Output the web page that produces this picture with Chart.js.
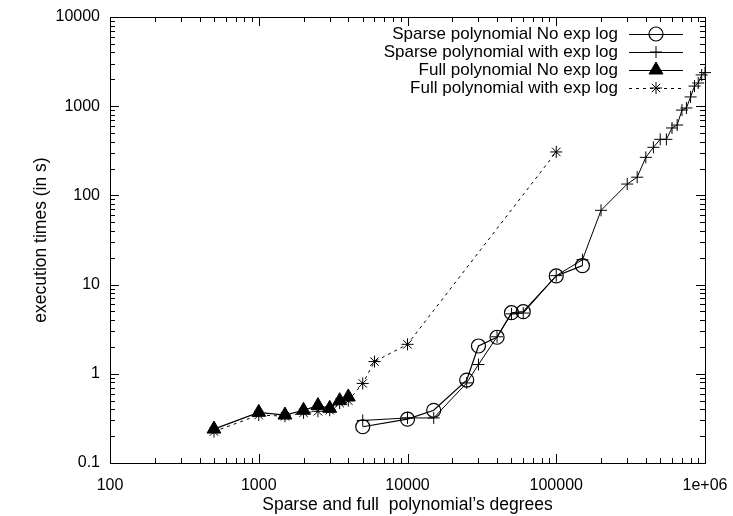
<!DOCTYPE html>
<html>
<head>
<meta charset="utf-8">
<script src="https://cdn.jsdelivr.net/npm/chart.js@4/dist/chart.umd.min.js"></script>
<style>
  html, body { margin: 0; padding: 0; background: #fff; }
  #wrap { width: 733px; height: 516px; }
</style>
</head>
<body>
<div id="wrap"><canvas id="c" width="733" height="516"></canvas></div>
<script>
// Values (log-log axes).
const seriesNames = [
  "Sparse polynomial No exp log",
  "Sparse polynomial with exp log",
  "Full polynomial No exp log",
  "Full polynomial with exp log"
];

const sparseNoExpX = [5000, 10000, 15000, 25000, 30000, 40000, 50000, 60000, 100000, 150000];
const sparseNoExpY = [0.255, 0.31, 0.39, 0.85, 2.05, 2.57, 4.84, 4.97, 12.5, 16.3];

const sparseExpX = [5000, 10000, 15000, 25000, 30000, 40000, 50000, 60000, 100000, 150000,
  200000, 300000, 350000, 400000, 450000, 500000, 550000, 600000, 650000, 700000,
  750000, 800000, 850000, 900000, 950000, 1000000];
const sparseExpY = [0.30, 0.32, 0.32, 0.79, 1.27, 2.6, 4.7, 4.8, 12.6, 19,
  68, 134, 160, 267, 346, 425, 425, 570, 615, 905,
  955, 1270, 1680, 1820, 2240, 2380];

const fullNoExpX = [500, 1000, 1500, 2000, 2500, 3000, 3500, 4000];
const fullNoExpY = [0.24, 0.37, 0.345, 0.39, 0.44, 0.41, 0.50, 0.55];

const fullExpX = [500, 1000, 1500, 2000, 2500, 3000, 3500, 4000, 5000, 6000, 10000, 100000];
const fullExpY = [0.225, 0.345, 0.335, 0.365, 0.38, 0.39, 0.47, 0.50, 0.78, 1.37, 2.14, 307];

const xTickVals = [100, 1000, 10000, 100000, 1000000];
const xTickLabels = ["100", "1000", "10000", "100000", "1e+06"];
const yTickVals = [0.1, 1, 10, 100, 1000, 10000];
const yTickLabels = ["0.1", "1", "10", "100", "1000", "10000"];

const xTitle = "Sparse and full  polynomial\u2019s degrees";
const yTitle = "execution times (in s)";

const FONT = "'Liberation Sans', Arial, Helvetica, sans-serif";
const pts = (xs, ys) => xs.map((x, i) => ({ x, y: ys[i] }));

// gnuplot-style frame: box border + inward major/minor ticks on all four sides
const framePlugin = {
  id: "frame",
  afterDraw(chart) {
    const { ctx, chartArea: a, scales } = chart;
    ctx.save();
    ctx.strokeStyle = "#000";
    ctx.lineWidth = 1;
    ctx.strokeRect(Math.round(a.left) + 0.5, Math.round(a.top) + 0.5,
      Math.round(a.right - a.left), Math.round(a.bottom - a.top));

    const logTicks = (min, max) => {
      const out = [];
      for (let e = Math.round(Math.log10(min)); e < Math.round(Math.log10(max)) + 1; e++) {
        for (let m = 1; m <= 9; m++) {
          const v = m * Math.pow(10, e);
          if (v >= min * 0.999 && v <= max * 1.001) out.push({ v, major: m === 1 });
        }
      }
      return out;
    };

    ctx.beginPath();
    logTicks(scales.x.min, scales.x.max).forEach(t => {
      const px = Math.round(scales.x.getPixelForValue(t.v)) + 0.5;
      const len = t.major ? 9 : 5;
      ctx.moveTo(px, a.bottom); ctx.lineTo(px, a.bottom - len);
      ctx.moveTo(px, a.top); ctx.lineTo(px, a.top + len);
    });
    logTicks(scales.y.min, scales.y.max).forEach(t => {
      const py = Math.round(scales.y.getPixelForValue(t.v)) + 0.5;
      const len = t.major ? 9 : 5;
      ctx.moveTo(a.left, py); ctx.lineTo(a.left + len, py);
      ctx.moveTo(a.right, py); ctx.lineTo(a.right - len, py);
    });
    ctx.stroke();
    ctx.restore();
  }
};

// legend in the top right corner: text right-aligned, sample line + marker to its right
const keyPlugin = {
  id: "key",
  afterDraw(chart) {
    const { ctx } = chart;
    const textRight = 618, lineL = 629, lineR = 683, rowTop = 34, rowH = 18;
    ctx.save();
    ctx.font = "17px " + FONT;
    ctx.textAlign = "right";
    ctx.textBaseline = "middle";
    chart.data.datasets.forEach((ds, i) => {
      const y = rowTop + i * rowH;
      ctx.fillStyle = "#000";
      ctx.fillText(ds.label, textRight, y);
      ctx.strokeStyle = ds.borderColor;
      ctx.lineWidth = ds.borderWidth;
      ctx.setLineDash(ds.borderDash || []);
      ctx.beginPath();
      ctx.moveTo(lineL, y + 0.5); ctx.lineTo(lineR, y + 0.5);
      ctx.stroke();
      ctx.setLineDash([]);
      ctx.fillStyle = ds.pointBackgroundColor;
      ctx.strokeStyle = ds.pointBorderColor;
      ctx.lineWidth = ds.pointBorderWidth;
      Chart.helpers.drawPoint(ctx, {
        pointStyle: ds.pointStyle, radius: ds.pointRadius, rotation: 0, borderWidth: ds.pointBorderWidth
      }, (lineL + lineR) / 2, y);
    });
    ctx.restore();
  }
};

const common = { showLine: true, fill: false, tension: 0, borderColor: "#000", pointBorderColor: "#000" };

new Chart(document.getElementById("c"), {
  type: "scatter",
  data: {
    datasets: [
      { ...common, label: seriesNames[0], data: pts(sparseNoExpX, sparseNoExpY),
        borderWidth: 1.2, pointStyle: "circle", pointRadius: 7, pointBorderWidth: 1.2,
        pointBackgroundColor: "rgba(0,0,0,0)" },
      { ...common, label: seriesNames[1], data: pts(sparseExpX, sparseExpY),
        borderWidth: 1, pointStyle: "cross", pointRadius: 6, pointBorderWidth: 1,
        pointBackgroundColor: "rgba(0,0,0,0)" },
      { ...common, label: seriesNames[2], data: pts(fullNoExpX, fullNoExpY),
        borderWidth: 1.2, pointStyle: "triangle", pointRadius: 8, pointBorderWidth: 1,
        pointBackgroundColor: "#000" },
      { ...common, label: seriesNames[3], data: pts(fullExpX, fullExpY),
        borderWidth: 1, borderDash: [3, 4], pointStyle: "star", pointRadius: 6, pointBorderWidth: 1,
        pointBackgroundColor: "rgba(0,0,0,0)" }
    ]
  },
  options: {
    responsive: false,
    animation: false,
    clip: false,
    layout: { padding: { top: 17, right: 28, left: 0, bottom: 0 } },
    plugins: { legend: { display: false }, tooltip: { enabled: false } },
    scales: {
      x: {
        type: "logarithmic", min: 100, max: 1000000,
        grid: { display: false, drawTicks: false },
        border: { display: false },
        afterBuildTicks: s => { s.ticks = xTickVals.map(v => ({ value: v })); },
        afterFit: s => { s.height = 53; s.paddingLeft = 0; s.paddingRight = 0; },
        ticks: { autoSkip: false, maxRotation: 0, minRotation: 0, padding: 13, color: "#000",
          font: { family: FONT, size: 16 }, callback: (v, i) => xTickLabels[i] },
        title: { display: true, text: xTitle, color: "#000", padding: { top: 0, bottom: 0 },
          font: { family: FONT, size: 17.5 } }
      },
      y: {
        type: "logarithmic", min: 0.1, max: 10000,
        grid: { display: false, drawTicks: false },
        border: { display: false },
        afterBuildTicks: s => { s.ticks = yTickVals.map(v => ({ value: v })); },
        afterFit: s => { s.width = 110; s.paddingTop = 0; s.paddingBottom = 0; },
        ticks: { autoSkip: false, padding: 10, color: "#000",
          font: { family: FONT, size: 16 }, callback: (v, i) => yTickLabels[i] },
        title: { display: true, text: yTitle, color: "#000", padding: { top: 31, bottom: 0 },
          font: { family: FONT, size: 17.5 } }
      }
    }
  },
  plugins: [framePlugin, keyPlugin]
});
</script>
</body>
</html>
